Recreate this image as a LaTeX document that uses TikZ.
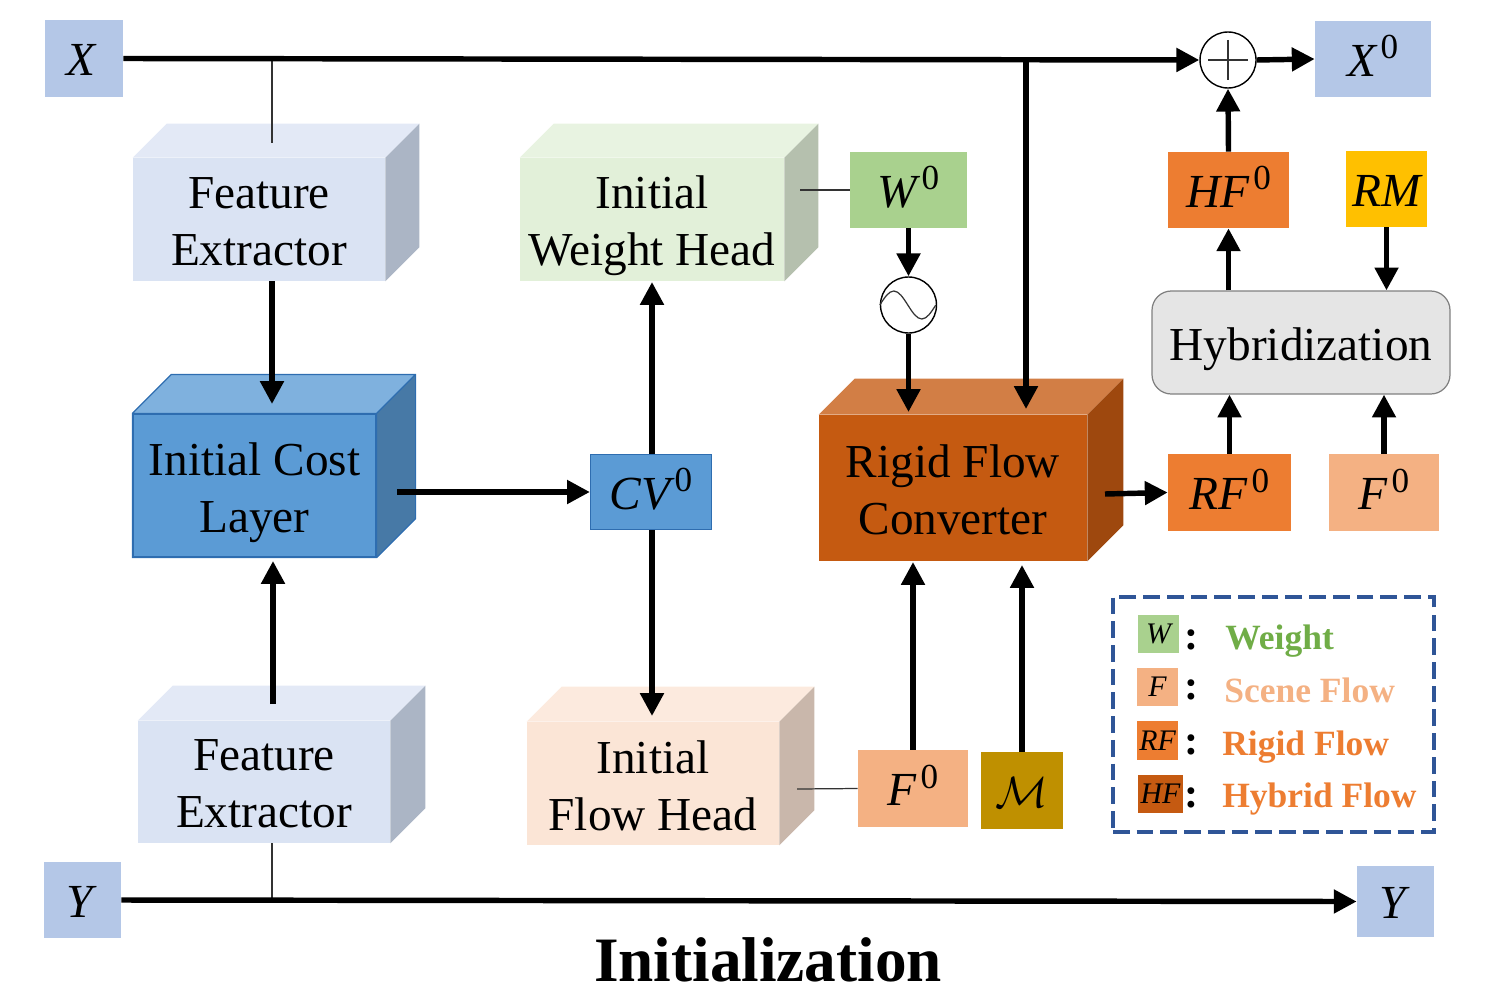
\documentclass[tikz,border=0pt]{standalone}
\usepackage{fontspec}
\setmainfont{Liberation Serif}
\usetikzlibrary{arrows.meta,positioning}
\definecolor{inblue}{HTML}{B4C7E7}
\definecolor{wgreen}{HTML}{A9D18E}
\definecolor{wtext}{HTML}{70AD47}
\definecolor{sflow}{HTML}{F4B183}
\definecolor{rflow}{HTML}{ED7D31}
\definecolor{hflow}{HTML}{C55A11}
\definecolor{rmask}{HTML}{FFC000}
\definecolor{mmask}{HTML}{BF9000}
\definecolor{cvblue}{HTML}{5B9BD5}
\definecolor{cvedge}{HTML}{2E6DB0}
\definecolor{legend}{HTML}{2F5597}
\definecolor{fefront}{HTML}{DAE3F3}
\definecolor{fetop}{HTML}{E3E9F6}
\definecolor{feside}{HTML}{ABB5C5}
\definecolor{wfront}{HTML}{E2F0D9}
\definecolor{wtop}{HTML}{E8F3E1}
\definecolor{wside}{HTML}{B5C0AE}
\definecolor{ffront}{HTML}{FBE5D6}
\definecolor{ftop}{HTML}{FCEADE}
\definecolor{fside}{HTML}{C9B7AB}
\def\px{0.02cm}
\tikzset{
  flow/.style={-{Triangle[length=13pt,width=13pt]},line width=3.1pt},
  plain/.style={line width=0.7pt,black!80},
  front/.style={inner sep=0pt},
  words/.style={inner sep=0pt,align=center,font=\fontsize{26.9}{32.3}\selectfont},
  tag/.style={inner sep=0pt,text height=19.5pt,text depth=0pt,font=\fontsize{27}{30}\selectfont\itshape},
  chip/.style={inner sep=0pt,font=\fontsize{17}{20}\selectfont\itshape},
  colon/.style={inner sep=0pt,font=\fontsize{24}{24}\selectfont\bfseries},
  key/.style={inner sep=0pt,anchor=base west,font=\fontsize{20.2}{24}\selectfont\bfseries},
  oper/.style={circle,draw=black,line width=0.8pt,fill=white,minimum size=56*\px,inner sep=0pt}
}
% faces of a block: name, depth, top colour, side colour
\newcommand{\blockfaces}[4]{
  \fill[#3] (#1.north west) -- ++(#2,-#2) -- ([shift={(#2,-#2)}]#1.north east) -- (#1.north east) -- cycle;
  \fill[#4] (#1.north east) -- ++(#2,-#2) -- ([shift={(#2,-#2)}]#1.south east) -- (#1.south east) -- cycle;
}
\newcommand{\sz}{\smash{\kern2.3pt\raisebox{10pt}{\upshape\fontsize{20}{20}\selectfont 0}}}
\begin{document}
\begin{tikzpicture}[x=\px,y=-\px]
\useasboundingbox (0,0) rectangle (1496,990);
% inputs and outputs
\node (x) [tag,fill=inblue,minimum width=78*\px,minimum height=77*\px,xshift=0pt] at (84,58.5) {\kern-3pt X};
\node (y) [tag,fill=inblue,minimum width=77*\px,minimum height=76*\px] at (82.5,900) {\kern-3pt Y};
\node (x0) [tag,fill=inblue,minimum width=116*\px,minimum height=76*\px] at (1373,59) {X\sz};
\node (y1) [tag,fill=inblue,minimum width=77*\px,minimum height=71*\px] at (1395.5,901.5) {\kern-3pt Y};
% blocks
\node (fe1) [front,fill=fefront,minimum width=252*\px,minimum height=123*\px,label={[words,yshift=-2*\px]center:{Feature\\Extractor}}] at (259,219.5) {};
\blockfaces{fe1}{34}{fetop}{feside}
\node (fe2) [front,fill=fefront,minimum width=252*\px,minimum height=122*\px,label={[words,yshift=-2*\px]center:{Feature\\Extractor}}] at (264,782) {};
\blockfaces{fe2}{35}{fetop}{feside}
\node (cost) [front,fill=cvblue,draw=cvedge,line width=0.7pt,minimum width=243*\px,minimum height=143*\px,label={[words,yshift=-7*\px]center:{Initial Cost\\Layer}}] at (254.5,485.5) {};
\blockfaces{cost}{39}{cvblue!78!white}{cvblue!78!black}
\draw[cvedge,line width=0.7pt] (cost.north west) -- ++(39,-39) -- ([shift={(39,-39)}]cost.north east) -- ([shift={(39,-39)}]cost.south east) -- (cost.south east) (cost.north east) -- ++(39,-39) (cost.north west) rectangle (cost.south east);
\node (whead) [front,fill=wfront,minimum width=264*\px,minimum height=123*\px,label={[words,yshift=-6*\px]center:{Initial\\Weight Head}}] at (652,219.5) {};
\blockfaces{whead}{34}{wtop}{wside}
\node (fhead) [front,fill=ffront,minimum width=252*\px,minimum height=123*\px,label={[words,yshift=-2*\px]center:{Initial\\Flow Head}}] at (653,783.5) {};
\blockfaces{fhead}{35}{ftop}{fside}
\node (rigid) [front,fill=hflow,minimum width=268*\px,minimum height=146*\px,label={[words,yshift=-2*\px]center:{Rigid Flow\\Converter}}] at (953,488) {};
\blockfaces{rigid}{36}{hflow!78!white}{hflow!80!black}
\node (hybrid) [front,fill=black!10,draw=black!50,line width=0.7pt,rounded corners=11pt,minimum width=298*\px,minimum height=103*\px,label={[words,yshift=-7*\px]center:{Hybridization}}] at (1301,342.5) {};
% feature boxes
\node (cv) [tag,fill=cvblue,draw=cvedge,line width=0.7pt,minimum width=121*\px,minimum height=75*\px] at (651,492) {CV\sz};
\node (w0) [tag,fill=wgreen,minimum width=117*\px,minimum height=76*\px] at (908.5,190) {W\sz};
\node (hf0) [tag,fill=rflow,minimum width=121*\px,minimum height=76*\px] at (1228.5,190) {HF\sz};
\node (rm) [tag,fill=rmask,minimum width=81*\px,minimum height=76*\px] at (1386.5,189) {RM};
\node (rf0) [tag,fill=rflow,minimum width=123*\px,minimum height=77*\px] at (1229.5,492.5) {RF\sz};
\node (f1) [tag,fill=sflow,minimum width=110*\px,minimum height=77*\px] at (1384,492.5) {F\sz};
\node (f2) [tag,fill=sflow,minimum width=110*\px,minimum height=77*\px] at (913,788.5) {F\sz};
\node (m) [tag,fill=mmask,minimum width=82*\px,minimum height=77*\px] at (1022,790.5) {$\mathcal{M}$};
% operators
\node (plus) [oper] at (1228,60) {};
\draw[plain] ([shift={(-20,0)}]plus.center) -- ([shift={(20,0)}]plus.center);
\draw[plain] ([shift={(0,-20)}]plus.center) -- ([shift={(0,20)}]plus.center);
\node (sim) [oper] at (908.5,305) {};
\draw[plain] (sim.west) sin ++(14,-14) cos ++(14,14) sin ++(14,14) cos ++(14,-14);
% free ends
\coordinate (xtap) at (272,60);
\coordinate (ytap) at (272,900);
\coordinate (fe1in) at (272,143);
\coordinate (costin) at (272,404);
\coordinate (fe2out) at (273,704);
\coordinate (costup) at (273,561);
\coordinate (costout) at (397,492);
\coordinate (rigidout) at (1105,494);
\coordinate (wtail) at (800,190);
\coordinate (ftail) at (797,789);
\coordinate (xdown) at (1026,60);
\coordinate (rigidx) at (1026,409);
\coordinate (rigidw) at (908.5,412);
\coordinate (rigidf) at (913,562);
\coordinate (rigidm) at (1022,565);
\coordinate (wheadin) at (652,282);
\coordinate (fheadin) at (652,716);
%
\draw[plain] (xtap) -- (fe1in);
\draw[plain] (ytap) -- (ytap |- fe2.south);
\draw[plain] (wtail) -- (w0.west);
\draw[plain] (ftail) -- (f2.west);
%
\path[flow] (x.east) edge (plus.west);
\path[flow] (plus.east) edge (x0.west);
\path[flow] (y.east) edge (y1.west);
\path[flow] (xtap |- fe1.south) edge (costin);
\path[flow] (fe2out) edge (costup);
\path[flow] (costout) edge (cv.west);
\path[flow] (wheadin |- cv.north) edge (wheadin);
\path[flow] (fheadin |- cv.south) edge (fheadin);
\path[flow] (w0.south) edge (sim.north);
\path[flow] (sim.south) edge (rigidw);
\path[flow] (xdown) edge (rigidx);
\path[flow] (rigidf |- f2.north) edge (rigidf);
\path[flow] (m.north) edge (rigidm);
\path[flow] (rigidout) edge (rf0.west);
\path[flow] (rf0.north) edge (rf0.north |- hybrid.south);
\path[flow] (f1.north) edge (f1.north |- hybrid.south);
\path[flow] (hybrid.north -| hf0.south) edge (hf0.south);
\path[flow] (hf0.north) edge (plus.south);
\path[flow] (rm.south) edge (rm.south |- hybrid.north);
% legend
\node (legendbox) [draw=legend,dash pattern=on 9.5pt off 4pt,line width=2.7pt,minimum width=321*\px,minimum height=235*\px,inner sep=0pt] at (1273.5,714.5) {};
\node (cw) [chip,fill=wgreen,minimum width=41*\px,minimum height=38*\px] at (1158.5,634) {W};
\node (cf) [chip,fill=sflow,minimum width=41*\px,minimum height=38*\px] at (1157.5,687) {F};
\node (cr) [chip,fill=rflow,minimum width=41*\px,minimum height=39*\px] at (1157.5,740.5) {RF};
\node (ch) [chip,fill=hflow,minimum width=45*\px,minimum height=38*\px] at (1160.5,794) {HF};
\node (c1) [colon] at (1191,640) {:};
\node (c2) [colon] at (1191,690) {:};
\node (c3) [colon] at (1191,745) {:};
\node (c4) [colon] at (1191,798) {:};
\node (kw) [key,text=wtext] at (1225,649) {Weight};
\node (kf) [key,text=sflow] at (1224,702) {Scene Flow};
\node (kr) [key,text=rflow] at (1222,755) {Rigid Flow};
\node (kh) [key,text=rflow] at (1222,807) {Hybrid Flow};
% caption
\node (title) [inner sep=0pt,font=\fontsize{36}{40}\selectfont\bfseries] at (768,960) {Initialization};
\end{tikzpicture}
\end{document}
